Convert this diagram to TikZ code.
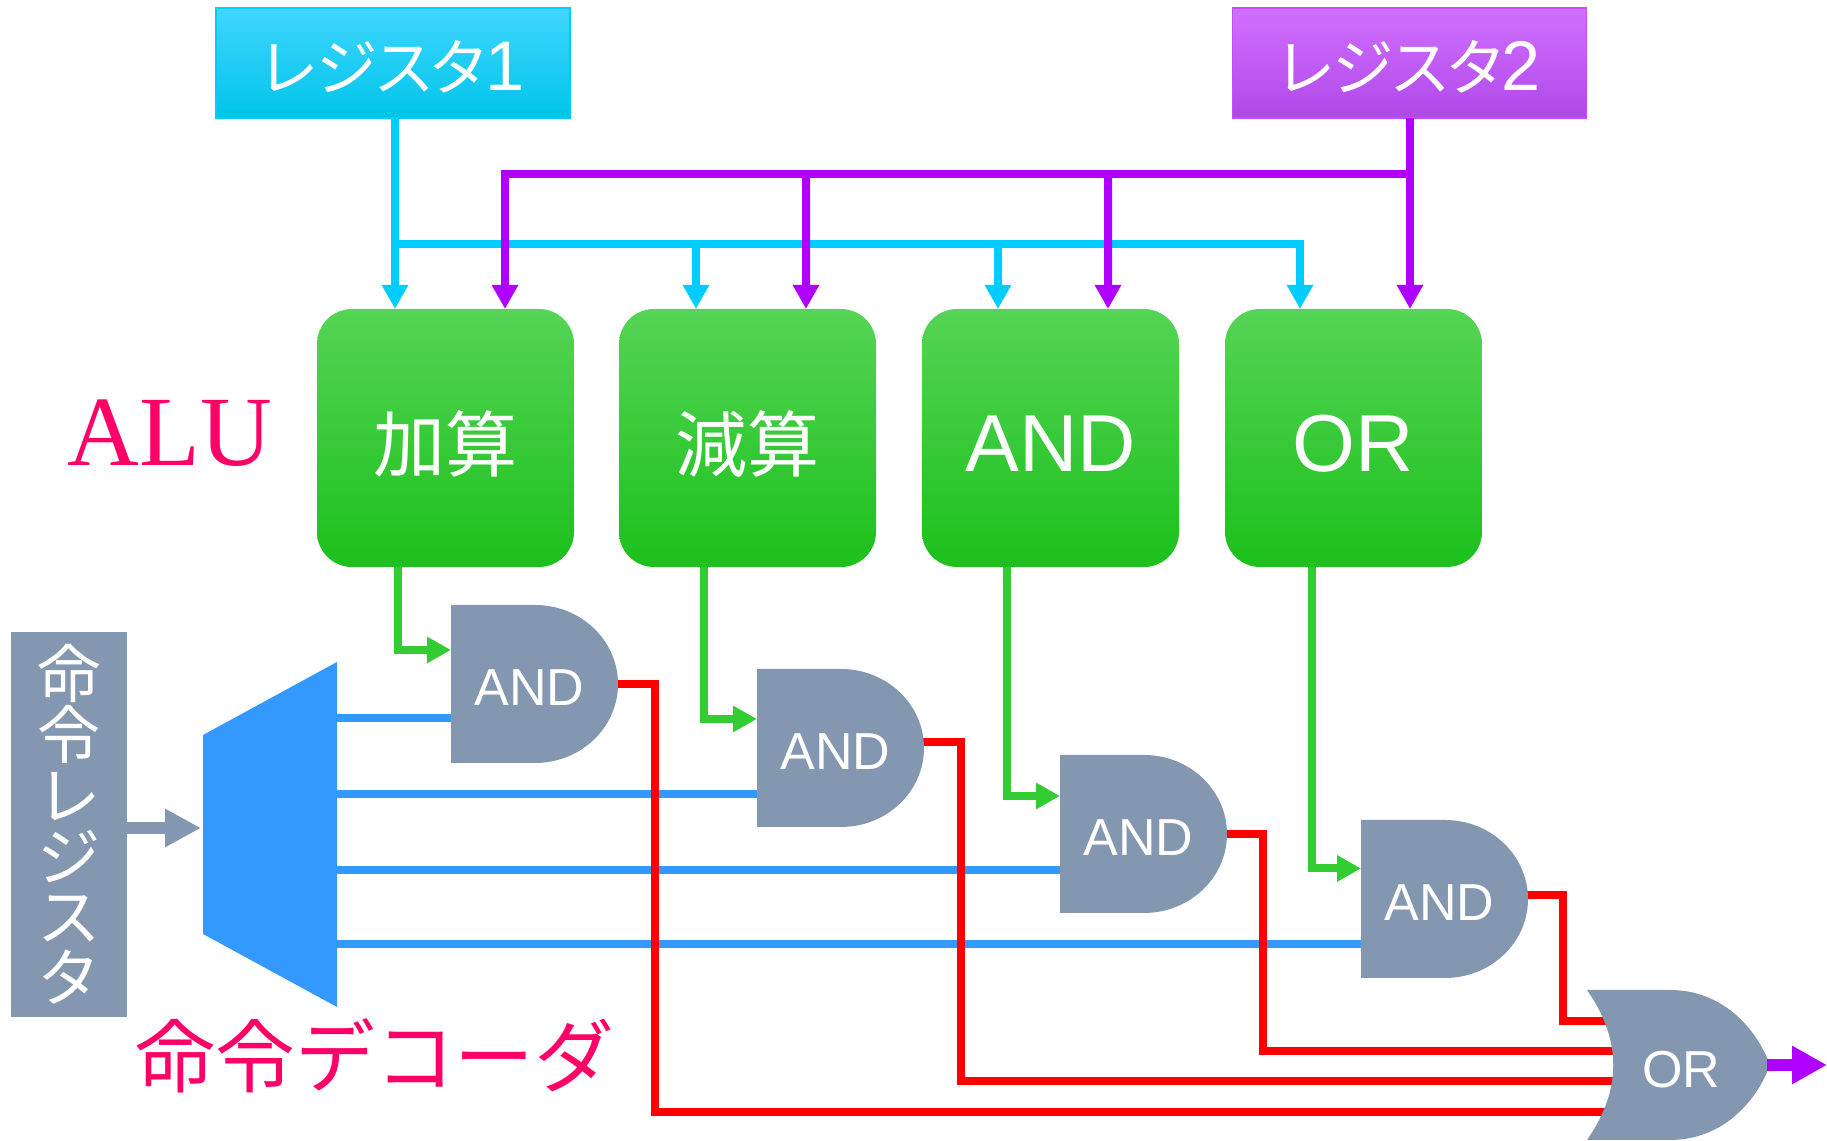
\documentclass[tikz,border=0pt]{standalone}
\usepackage{fontspec}
\setmainfont{Liberation Sans}
\newfontfamily\jpfont[RawFeature=+palt]{Noto Sans CJK JP}
\newfontfamily\jpplain{Noto Sans CJK JP}
\newfontfamily\serifont{Liberation Serif}
\usepackage{xcolor}
\usepackage{tikz}
\usetikzlibrary{arrows.meta,calc}
\definecolor{cGray}{HTML}{8497B0}
\definecolor{cBlue}{HTML}{3399FF}
\definecolor{cCyan}{HTML}{00CCFF}
\definecolor{cPurple}{HTML}{B000FF}
\definecolor{cGreen}{HTML}{33CC33}
\definecolor{cPink}{HTML}{FF0066}
\tikzstyle{tsLine} = [
    line width=0.8mm,
    line join=miter
]
\tikzstyle{tsArrow} = [
    tsLine,
    -{Triangle[length=2.4mm,width=2.5mm]}
]
\tikzstyle{tsRegister} = [
    rectangle,
    text=white,
    minimum width=3.54cm,
    minimum height=1.1cm,
    text height=0.56cm,
    text depth=0pt,
    font={\jpfont\fontsize{17.5pt}{22pt}\selectfont}
]
\tikzstyle{tsUnit} = [
    rectangle,
    rounded corners=3.5mm,
    text=white,
    minimum width=2.57cm,
    minimum height=2.58cm,
    text height=0.68cm,
    text depth=0pt,
    top color={rgb,255:red,85;green,212;blue,85},
    middle color={rgb,255:red,50;green,204;blue,50},
    bottom color={rgb,255:red,28;green,192;blue,28},
    font=\fontsize{23pt}{28pt}\selectfont
]
\tikzstyle{tsGate} = [
    rectangle,
    inner sep=0pt,
    minimum width=1.67cm,
    minimum height=1.58cm
]
\tikzstyle{tsGateText} = [
    text=white,
    font=\fontsize{14.8pt}{18pt}\selectfont
]

\begin{document}
\begin{tikzpicture}[every node/.append style={outer sep=0pt}]
        \useasboundingbox (0,0) rectangle (18.27,11.41);

        % registers and units
        \node[tsRegister, draw=cCyan, line width=0.3pt, top color={rgb,255:red,64;green,214;blue,255}, middle color={rgb,255:red,0;green,210;blue,255}, bottom color={rgb,255:red,0;green,196;blue,232}] (regA) at (3.93,10.78) {レジスタ{\rmfamily\fontsize{20pt}{22pt}\selectfont 1}};
        \node[tsRegister, draw=cPurple!70, line width=0.3pt, top color={rgb,255:red,208;green,112;blue,255}, middle color={rgb,255:red,196;green,100;blue,248}, bottom color={rgb,255:red,176;green,72;blue,232}] (regB) at (14.095,10.78) {レジスタ{\rmfamily\fontsize{20pt}{22pt}\selectfont 2}};

        \node[tsUnit] (unitAdd) at (4.455,7.03) {\jpfont\fontsize{20.5pt}{24pt}\selectfont 加算};
        \node[tsUnit] (unitSub) at (7.475,7.03) {\jpfont\fontsize{20.5pt}{24pt}\selectfont 減算};
        \node[tsUnit] (unitAnd) at (10.505,7.03) {AND};
        \node[tsUnit] (unitOr) at (13.535,7.03) {OR};

        \node[text=cPink, font={\serifont\fontsize{28.3pt}{32pt}\selectfont}] (labelAlu) at (1.70,7.08) {ALU};

        % decoder
        \node[fill=cGray, text=white, inner sep=0pt, align=center, minimum width=1.16cm, minimum height=3.85cm,
              font={\jpplain\fontsize{18pt}{17.3pt}\selectfont}] (regInst) at (0.69,3.165)
              {命\\令\\レ\\ジ\\ス\\タ};
        \node[minimum width=1.34cm, minimum height=3.45cm, inner sep=0pt] (decoder) at (2.70,3.065) { };
        \fill[cBlue] (decoder.north east) -- (decoder.south east)
            -- ([yshift=0.73cm]decoder.south west) -- ([yshift=-0.73cm]decoder.north west) -- cycle;
        \coordinate (decoderIn) at ([xshift=-0.02cm,yshift=0.65mm]decoder.west);
        \draw[tsLine, cGray, line width=1.2mm, -{Triangle[length=3.6mm,width=3.6mm]}] (regInst.east |- decoderIn) -- (decoderIn);

        \node[text=cPink, font={\jpplain\fontsize{22.7pt}{26pt}\selectfont}] (labelDec) at (3.75,0.85) {命令デコーダ};

        % gates
        \node[tsGate] (gateA) at (5.345,4.57) { };
        \node[tsGate] (gateB) at (8.405,3.93) { };
        \node[tsGate] (gateC) at (11.435,3.07) { };
        \node[tsGate] (gateD) at (14.445,2.42) { };
        \node[tsGate, minimum width=1.83cm, minimum height=1.5cm] (gateOr) at (16.785,0.76) { };

        % register 1 bus
        \coordinate (cyanTop) at ([xshift=0.2mm]regA.south);
        \coordinate (cyanJoint) at (cyanTop |- 0,8.97);
        \draw[tsArrow, cCyan] (cyanTop) -- (cyanTop |- unitAdd.north);
        \draw[tsArrow, cCyan] (cyanJoint) -| ([xshift=-5.35mm]unitOr.north);
        \draw[tsArrow, cCyan] (cyanJoint -| {$(unitSub.north)+(-0.515,0)$}) -- ([xshift=-5.15mm]unitSub.north);
        \draw[tsArrow, cCyan] (cyanJoint -| {$(unitAnd.north)+(-0.525,0)$}) -- ([xshift=-5.25mm]unitAnd.north);

        % register 2 bus
        \coordinate (purpleTop) at ([xshift=0.05mm]regB.south);
        \coordinate (purpleJoint) at (purpleTop |- 0,9.67);
        \draw[tsArrow, cPurple] (purpleTop) -- (purpleTop |- unitOr.north);
        \draw[tsArrow, cPurple] (purpleJoint) -| ([xshift=5.95mm]unitAdd.north);
        \draw[tsArrow, cPurple] (purpleJoint -| {$(unitSub.north)+(0.585,0)$}) -- ([xshift=5.85mm]unitSub.north);
        \draw[tsArrow, cPurple] (purpleJoint -| {$(unitAnd.north)+(0.575,0)$}) -- ([xshift=5.75mm]unitAnd.north);

        % decoder outputs
        \foreach \gate/\dy in {gateA/-3.45, gateB/-4.6, gateC/-3.6, gateD/-4.55} {
            \coordinate (blueEnd) at ([yshift=\dy mm]\gate.west);
            \draw[tsLine, cBlue] (decoder.east |- blueEnd) -- (blueEnd);
        }

        % unit outputs
        \draw[tsArrow, cGreen] ([xshift=-4.75mm]unitAdd.south) |- ([yshift=3.4mm]gateA.west);
        \draw[tsArrow, cGreen] ([xshift=-4.35mm]unitSub.south) |- ([yshift=2.9mm]gateB.west);
        \draw[tsArrow, cGreen] ([xshift=-4.35mm]unitAnd.south) |- ([yshift=3.8mm]gateC.west);
        \draw[tsArrow, cGreen] ([xshift=-4.15mm]unitOr.south) |- ([yshift=3.05mm]gateD.west);

        % gate outputs
        \draw[tsLine, red] ([xshift=-0.5mm]gateA.east) -- ++(0.42,0) |- ([xshift=3.3mm,yshift=-4.7mm]gateOr.west);
        \draw[tsLine, red] ([xshift=-0.5mm,yshift=0.6mm]gateB.east) -- ++(0.42,0) |- ([xshift=3.3mm,yshift=-1.6mm]gateOr.west);
        \draw[tsLine, red] ([xshift=-0.5mm]gateC.east) -- ++(0.41,0) |- ([xshift=3.3mm,yshift=1.4mm]gateOr.west);
        \draw[tsLine, red] ([xshift=-0.5mm,yshift=0.35mm]gateD.east) -- ++(0.40,0) |- ([xshift=3.3mm,yshift=4.4mm]gateOr.west);

        % gate bodies
        \foreach \gate in {gateA, gateB, gateC, gateD} {
            \fill[cGray] (\gate.north west) -- ++(0.84,0)
                arc[start angle=90, end angle=-90, x radius=0.83, y radius=0.79]
                -- (\gate.south west) -- cycle;
            \node[tsGateText] (text\gate) at ([xshift=-0.05cm,yshift=-0.04cm]\gate.center) {AND};
        }
        \fill[cGray] (gateOr.north west) -- ++(0.83,0)
            .. controls (17.20,1.51) and (17.55,1.16) .. (gateOr.east)
            .. controls (17.55,0.36) and (17.20,0.01) .. (16.70,0.01)
            -- (gateOr.south west)
            .. controls (16.22,0.51) and (16.22,1.01) .. (gateOr.north west) -- cycle;
        \node[tsGateText] (textOr) at ([xshift=0.03cm,yshift=-0.05cm]gateOr.center) {OR};
        \draw[tsLine, cPurple, line width=1.2mm, -{Triangle[length=3.5mm,width=3.6mm]}] ([xshift=-0.03cm]gateOr.east) -- ++(0.60,0);
\end{tikzpicture}
\end{document}
